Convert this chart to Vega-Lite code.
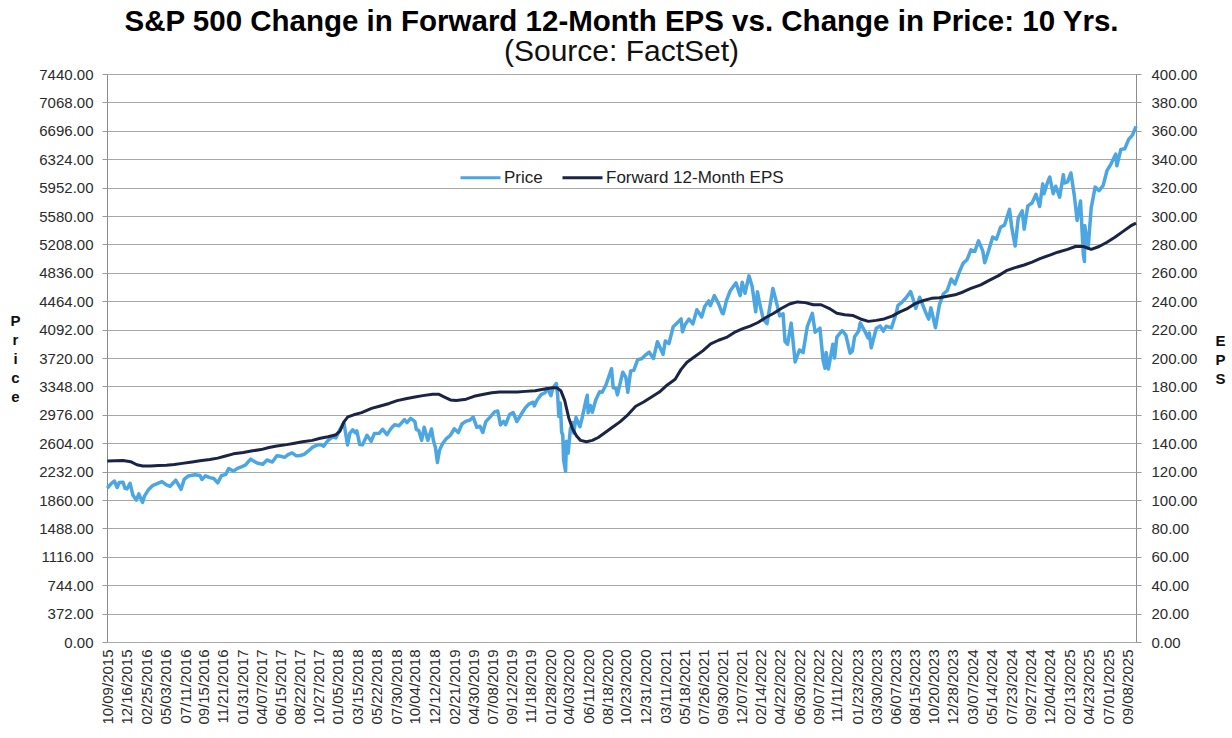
{
  "$schema": "https://vega.github.io/schema/vega-lite/v6.json",
  "width": 1029,
  "height": 568,
  "autosize": {"type": "none"},
  "padding": {"left": 107, "top": 74, "right": 96, "bottom": 96},
  "background": "white",
  "config": {
    "font": "Liberation Sans",
    "view": {"stroke": "#8c8c8c", "strokeWidth": 1},
    "axis": {"labelFont": "Liberation Sans", "labelColor": "#2b2b2b", "titleFont": "Liberation Sans"}
  },
  "title": {
    "text": "S&P 500 Change in Forward 12-Month EPS vs. Change in Price: 10 Yrs.",
    "subtitle": "(Source: FactSet)",
    "anchor": "middle",
    "font": "Liberation Sans",
    "fontSize": 29.5,
    "fontWeight": "bold",
    "color": "#000000",
    "subtitleFont": "Liberation Sans",
    "subtitleFontSize": 30,
    "subtitleColor": "#111111",
    "subtitlePadding": 0,
    "offset": -1
  },
  "datasets": {
    "price": [
      {"date": "2015-10-09", "Price": 2014}, {"date": "2015-10-23", "Price": 2075}, {"date": "2015-11-03", "Price": 2109}, {"date": "2015-11-13", "Price": 2023}, {"date": "2015-11-20", "Price": 2089}, {"date": "2015-12-04", "Price": 2091}, {"date": "2015-12-11", "Price": 2012}, {"date": "2015-12-18", "Price": 2005}, {"date": "2015-12-29", "Price": 2078},
      {"date": "2016-01-08", "Price": 1922}, {"date": "2016-01-20", "Price": 1859}, {"date": "2016-01-29", "Price": 1940}, {"date": "2016-02-11", "Price": 1829}, {"date": "2016-02-19", "Price": 1918}, {"date": "2016-03-04", "Price": 1999}, {"date": "2016-03-18", "Price": 2049}, {"date": "2016-04-01", "Price": 2072}, {"date": "2016-04-20", "Price": 2102}, {"date": "2016-05-06", "Price": 2057}, {"date": "2016-05-19", "Price": 2040}, {"date": "2016-06-08", "Price": 2119}, {"date": "2016-06-16", "Price": 2071}, {"date": "2016-06-27", "Price": 2000}, {"date": "2016-07-08", "Price": 2130}, {"date": "2016-07-22", "Price": 2175}, {"date": "2016-08-15", "Price": 2190}, {"date": "2016-09-02", "Price": 2180}, {"date": "2016-09-09", "Price": 2128}, {"date": "2016-09-22", "Price": 2177}, {"date": "2016-10-07", "Price": 2153}, {"date": "2016-10-21", "Price": 2141}, {"date": "2016-11-04", "Price": 2085}, {"date": "2016-11-18", "Price": 2182}, {"date": "2016-12-02", "Price": 2192}, {"date": "2016-12-13", "Price": 2271}, {"date": "2016-12-30", "Price": 2239},
      {"date": "2017-01-13", "Price": 2275}, {"date": "2017-01-27", "Price": 2295}, {"date": "2017-02-10", "Price": 2316}, {"date": "2017-03-01", "Price": 2396}, {"date": "2017-03-10", "Price": 2373}, {"date": "2017-03-24", "Price": 2344}, {"date": "2017-04-13", "Price": 2329}, {"date": "2017-04-28", "Price": 2384}, {"date": "2017-05-17", "Price": 2357}, {"date": "2017-06-02", "Price": 2439}, {"date": "2017-06-16", "Price": 2433}, {"date": "2017-06-29", "Price": 2419}, {"date": "2017-07-14", "Price": 2459}, {"date": "2017-07-26", "Price": 2477}, {"date": "2017-08-10", "Price": 2438}, {"date": "2017-08-25", "Price": 2443}, {"date": "2017-09-08", "Price": 2461}, {"date": "2017-09-22", "Price": 2502}, {"date": "2017-10-06", "Price": 2549}, {"date": "2017-10-20", "Price": 2575}, {"date": "2017-11-03", "Price": 2587}, {"date": "2017-11-15", "Price": 2565}, {"date": "2017-12-01", "Price": 2642}, {"date": "2017-12-18", "Price": 2690}, {"date": "2017-12-29", "Price": 2674},
      {"date": "2018-01-12", "Price": 2786}, {"date": "2018-01-26", "Price": 2873}, {"date": "2018-02-08", "Price": 2581}, {"date": "2018-02-16", "Price": 2732}, {"date": "2018-02-26", "Price": 2780}, {"date": "2018-03-08", "Price": 2738}, {"date": "2018-03-13", "Price": 2765}, {"date": "2018-03-23", "Price": 2588}, {"date": "2018-04-02", "Price": 2582}, {"date": "2018-04-18", "Price": 2708}, {"date": "2018-05-03", "Price": 2630}, {"date": "2018-05-14", "Price": 2730}, {"date": "2018-06-01", "Price": 2735}, {"date": "2018-06-12", "Price": 2787}, {"date": "2018-06-28", "Price": 2716}, {"date": "2018-07-13", "Price": 2801}, {"date": "2018-07-25", "Price": 2846}, {"date": "2018-08-10", "Price": 2833}, {"date": "2018-08-29", "Price": 2914}, {"date": "2018-09-07", "Price": 2872}, {"date": "2018-09-20", "Price": 2931}, {"date": "2018-10-05", "Price": 2886}, {"date": "2018-10-10", "Price": 2785}, {"date": "2018-10-19", "Price": 2768}, {"date": "2018-10-29", "Price": 2641}, {"date": "2018-11-07", "Price": 2814}, {"date": "2018-11-20", "Price": 2642}, {"date": "2018-12-03", "Price": 2790}, {"date": "2018-12-10", "Price": 2637}, {"date": "2018-12-17", "Price": 2546}, {"date": "2018-12-24", "Price": 2351}, {"date": "2018-12-31", "Price": 2507},
      {"date": "2019-01-11", "Price": 2596}, {"date": "2019-01-25", "Price": 2665}, {"date": "2019-02-08", "Price": 2708}, {"date": "2019-02-22", "Price": 2793}, {"date": "2019-03-08", "Price": 2743}, {"date": "2019-03-21", "Price": 2855}, {"date": "2019-04-05", "Price": 2893}, {"date": "2019-04-18", "Price": 2905}, {"date": "2019-04-30", "Price": 2946}, {"date": "2019-05-13", "Price": 2812}, {"date": "2019-05-24", "Price": 2826}, {"date": "2019-06-03", "Price": 2744}, {"date": "2019-06-14", "Price": 2887}, {"date": "2019-06-28", "Price": 2942}, {"date": "2019-07-15", "Price": 3014}, {"date": "2019-07-26", "Price": 3026}, {"date": "2019-08-05", "Price": 2844}, {"date": "2019-08-16", "Price": 2889}, {"date": "2019-08-23", "Price": 2847}, {"date": "2019-09-06", "Price": 2979}, {"date": "2019-09-19", "Price": 3006}, {"date": "2019-10-02", "Price": 2888}, {"date": "2019-10-18", "Price": 2986}, {"date": "2019-11-01", "Price": 3067}, {"date": "2019-11-15", "Price": 3120}, {"date": "2019-11-29", "Price": 3141}, {"date": "2019-12-03", "Price": 3093}, {"date": "2019-12-13", "Price": 3169}, {"date": "2019-12-27", "Price": 3240},
      {"date": "2020-01-10", "Price": 3265}, {"date": "2020-01-17", "Price": 3330}, {"date": "2020-01-31", "Price": 3226}, {"date": "2020-02-07", "Price": 3328}, {"date": "2020-02-19", "Price": 3386}, {"date": "2020-02-24", "Price": 3226}, {"date": "2020-02-28", "Price": 2954}, {"date": "2020-03-04", "Price": 3130}, {"date": "2020-03-09", "Price": 2747}, {"date": "2020-03-13", "Price": 2711}, {"date": "2020-03-16", "Price": 2386}, {"date": "2020-03-23", "Price": 2237}, {"date": "2020-03-26", "Price": 2630}, {"date": "2020-04-01", "Price": 2471}, {"date": "2020-04-09", "Price": 2790}, {"date": "2020-04-17", "Price": 2875}, {"date": "2020-04-21", "Price": 2737}, {"date": "2020-04-29", "Price": 2940}, {"date": "2020-05-13", "Price": 2820}, {"date": "2020-05-22", "Price": 2955}, {"date": "2020-06-05", "Price": 3194}, {"date": "2020-06-08", "Price": 3232}, {"date": "2020-06-11", "Price": 3002}, {"date": "2020-06-19", "Price": 3098}, {"date": "2020-06-26", "Price": 3009}, {"date": "2020-07-08", "Price": 3170}, {"date": "2020-07-22", "Price": 3277}, {"date": "2020-07-31", "Price": 3271}, {"date": "2020-08-14", "Price": 3373}, {"date": "2020-09-02", "Price": 3580}, {"date": "2020-09-08", "Price": 3332}, {"date": "2020-09-18", "Price": 3319}, {"date": "2020-09-23", "Price": 3237}, {"date": "2020-10-12", "Price": 3534}, {"date": "2020-10-23", "Price": 3465}, {"date": "2020-10-30", "Price": 3270}, {"date": "2020-11-09", "Price": 3551}, {"date": "2020-11-20", "Price": 3558}, {"date": "2020-12-04", "Price": 3699}, {"date": "2020-12-18", "Price": 3709}, {"date": "2020-12-31", "Price": 3756},
      {"date": "2021-01-14", "Price": 3796}, {"date": "2021-01-29", "Price": 3714}, {"date": "2021-02-12", "Price": 3934}, {"date": "2021-03-04", "Price": 3768}, {"date": "2021-03-12", "Price": 3943}, {"date": "2021-03-25", "Price": 3909}, {"date": "2021-04-09", "Price": 4129}, {"date": "2021-04-23", "Price": 4180}, {"date": "2021-05-07", "Price": 4232}, {"date": "2021-05-12", "Price": 4063}, {"date": "2021-05-21", "Price": 4156}, {"date": "2021-06-04", "Price": 4230}, {"date": "2021-06-18", "Price": 4167}, {"date": "2021-07-02", "Price": 4352}, {"date": "2021-07-19", "Price": 4258}, {"date": "2021-07-30", "Price": 4395}, {"date": "2021-08-13", "Price": 4468}, {"date": "2021-08-19", "Price": 4406}, {"date": "2021-09-02", "Price": 4537}, {"date": "2021-09-17", "Price": 4433}, {"date": "2021-09-30", "Price": 4308}, {"date": "2021-10-04", "Price": 4300}, {"date": "2021-10-15", "Price": 4471}, {"date": "2021-10-29", "Price": 4605}, {"date": "2021-11-18", "Price": 4704}, {"date": "2021-11-30", "Price": 4567}, {"date": "2021-12-03", "Price": 4538}, {"date": "2021-12-10", "Price": 4712}, {"date": "2021-12-20", "Price": 4568},
      {"date": "2022-01-03", "Price": 4796}, {"date": "2022-01-14", "Price": 4662}, {"date": "2022-01-27", "Price": 4326}, {"date": "2022-02-02", "Price": 4589}, {"date": "2022-02-11", "Price": 4418}, {"date": "2022-02-23", "Price": 4225}, {"date": "2022-03-08", "Price": 4170}, {"date": "2022-03-29", "Price": 4631}, {"date": "2022-04-08", "Price": 4488}, {"date": "2022-04-22", "Price": 4272}, {"date": "2022-05-04", "Price": 4300}, {"date": "2022-05-11", "Price": 3935}, {"date": "2022-05-20", "Price": 3901}, {"date": "2022-06-02", "Price": 4177}, {"date": "2022-06-16", "Price": 3667}, {"date": "2022-07-01", "Price": 3825}, {"date": "2022-07-14", "Price": 3790}, {"date": "2022-07-29", "Price": 4130}, {"date": "2022-08-16", "Price": 4305}, {"date": "2022-08-26", "Price": 4058}, {"date": "2022-09-12", "Price": 4110}, {"date": "2022-09-23", "Price": 3693}, {"date": "2022-09-30", "Price": 3586}, {"date": "2022-10-04", "Price": 3791}, {"date": "2022-10-12", "Price": 3577}, {"date": "2022-10-28", "Price": 3901}, {"date": "2022-11-03", "Price": 3720}, {"date": "2022-11-11", "Price": 3993}, {"date": "2022-11-30", "Price": 4080}, {"date": "2022-12-13", "Price": 4020}, {"date": "2022-12-28", "Price": 3783},
      {"date": "2023-01-05", "Price": 3808}, {"date": "2023-01-13", "Price": 3999}, {"date": "2023-01-27", "Price": 4070}, {"date": "2023-02-02", "Price": 4180}, {"date": "2023-02-17", "Price": 4079}, {"date": "2023-03-02", "Price": 3982}, {"date": "2023-03-06", "Price": 4048}, {"date": "2023-03-13", "Price": 3855}, {"date": "2023-03-31", "Price": 4109}, {"date": "2023-04-14", "Price": 4138}, {"date": "2023-04-25", "Price": 4071}, {"date": "2023-05-05", "Price": 4136}, {"date": "2023-05-24", "Price": 4115}, {"date": "2023-06-09", "Price": 4299}, {"date": "2023-06-16", "Price": 4410}, {"date": "2023-06-30", "Price": 4450}, {"date": "2023-07-14", "Price": 4505}, {"date": "2023-07-31", "Price": 4589}, {"date": "2023-08-11", "Price": 4464}, {"date": "2023-08-18", "Price": 4370}, {"date": "2023-09-01", "Price": 4516}, {"date": "2023-09-21", "Price": 4330}, {"date": "2023-10-03", "Price": 4229}, {"date": "2023-10-11", "Price": 4377}, {"date": "2023-10-27", "Price": 4117}, {"date": "2023-11-10", "Price": 4415}, {"date": "2023-11-24", "Price": 4559}, {"date": "2023-12-08", "Price": 4604}, {"date": "2023-12-22", "Price": 4755},
      {"date": "2024-01-04", "Price": 4688}, {"date": "2024-01-19", "Price": 4840}, {"date": "2024-02-02", "Price": 4959}, {"date": "2024-02-16", "Price": 5006}, {"date": "2024-03-01", "Price": 5137}, {"date": "2024-03-15", "Price": 5117}, {"date": "2024-03-28", "Price": 5254}, {"date": "2024-04-12", "Price": 5123}, {"date": "2024-04-19", "Price": 4967}, {"date": "2024-05-03", "Price": 5128}, {"date": "2024-05-17", "Price": 5303}, {"date": "2024-05-31", "Price": 5278}, {"date": "2024-06-14", "Price": 5432}, {"date": "2024-06-28", "Price": 5460}, {"date": "2024-07-16", "Price": 5667}, {"date": "2024-07-24", "Price": 5427}, {"date": "2024-08-05", "Price": 5186}, {"date": "2024-08-16", "Price": 5554}, {"date": "2024-08-30", "Price": 5648}, {"date": "2024-09-06", "Price": 5408}, {"date": "2024-09-19", "Price": 5713}, {"date": "2024-10-04", "Price": 5751}, {"date": "2024-10-18", "Price": 5864}, {"date": "2024-10-31", "Price": 5705}, {"date": "2024-11-11", "Price": 6001}, {"date": "2024-11-15", "Price": 5870}, {"date": "2024-11-29", "Price": 6032}, {"date": "2024-12-06", "Price": 6090}, {"date": "2024-12-18", "Price": 5872}, {"date": "2024-12-27", "Price": 5970},
      {"date": "2025-01-10", "Price": 5827}, {"date": "2025-01-23", "Price": 6119}, {"date": "2025-01-27", "Price": 6012}, {"date": "2025-02-07", "Price": 6026}, {"date": "2025-02-19", "Price": 6144}, {"date": "2025-03-03", "Price": 5850}, {"date": "2025-03-13", "Price": 5522}, {"date": "2025-03-25", "Price": 5777}, {"date": "2025-04-04", "Price": 5074}, {"date": "2025-04-08", "Price": 4983}, {"date": "2025-04-09", "Price": 5457}, {"date": "2025-04-21", "Price": 5158}, {"date": "2025-05-02", "Price": 5687}, {"date": "2025-05-16", "Price": 5958}, {"date": "2025-05-30", "Price": 5912}, {"date": "2025-06-13", "Price": 5977}, {"date": "2025-06-27", "Price": 6173}, {"date": "2025-07-11", "Price": 6260}, {"date": "2025-07-28", "Price": 6390}, {"date": "2025-08-01", "Price": 6238}, {"date": "2025-08-15", "Price": 6450}, {"date": "2025-08-29", "Price": 6460}, {"date": "2025-09-12", "Price": 6584}, {"date": "2025-09-26", "Price": 6644}, {"date": "2025-10-08", "Price": 6753}
    ],
    "eps": [
      {"date": "2015-10-09", "EPS": 127.5}, {"date": "2015-11-06", "EPS": 127.6}, {"date": "2015-12-04", "EPS": 127.8}, {"date": "2015-12-31", "EPS": 127.0},
      {"date": "2016-01-22", "EPS": 124.8}, {"date": "2016-02-12", "EPS": 124.0}, {"date": "2016-03-11", "EPS": 124.0}, {"date": "2016-04-08", "EPS": 124.3}, {"date": "2016-05-06", "EPS": 124.5}, {"date": "2016-06-03", "EPS": 125.0}, {"date": "2016-07-01", "EPS": 125.8}, {"date": "2016-08-05", "EPS": 126.8}, {"date": "2016-09-02", "EPS": 127.7}, {"date": "2016-10-07", "EPS": 128.5}, {"date": "2016-11-04", "EPS": 129.5}, {"date": "2016-12-02", "EPS": 131.0}, {"date": "2016-12-30", "EPS": 132.5},
      {"date": "2017-02-03", "EPS": 133.5}, {"date": "2017-03-03", "EPS": 134.5}, {"date": "2017-04-07", "EPS": 135.5}, {"date": "2017-05-05", "EPS": 137.0}, {"date": "2017-06-02", "EPS": 138.0}, {"date": "2017-07-07", "EPS": 139.0}, {"date": "2017-08-04", "EPS": 140.0}, {"date": "2017-09-01", "EPS": 141.0}, {"date": "2017-10-06", "EPS": 142.0}, {"date": "2017-11-03", "EPS": 143.5}, {"date": "2017-12-01", "EPS": 144.5}, {"date": "2017-12-29", "EPS": 146.0},
      {"date": "2018-01-12", "EPS": 148.5}, {"date": "2018-01-26", "EPS": 155.0}, {"date": "2018-02-09", "EPS": 158.5}, {"date": "2018-03-02", "EPS": 160.0}, {"date": "2018-03-30", "EPS": 161.5}, {"date": "2018-05-04", "EPS": 164.5}, {"date": "2018-06-01", "EPS": 166.0}, {"date": "2018-07-06", "EPS": 168.0}, {"date": "2018-08-03", "EPS": 170.0}, {"date": "2018-09-07", "EPS": 171.5}, {"date": "2018-10-05", "EPS": 172.5}, {"date": "2018-11-02", "EPS": 173.5}, {"date": "2018-12-07", "EPS": 174.5}, {"date": "2018-12-28", "EPS": 174.5},
      {"date": "2019-01-18", "EPS": 172.5}, {"date": "2019-02-08", "EPS": 170.5}, {"date": "2019-03-01", "EPS": 170.0}, {"date": "2019-04-05", "EPS": 171.0}, {"date": "2019-05-03", "EPS": 173.0}, {"date": "2019-06-07", "EPS": 174.5}, {"date": "2019-07-05", "EPS": 175.5}, {"date": "2019-08-02", "EPS": 176.0}, {"date": "2019-09-06", "EPS": 176.0}, {"date": "2019-10-04", "EPS": 176.0}, {"date": "2019-11-01", "EPS": 176.5}, {"date": "2019-12-06", "EPS": 177.0},
      {"date": "2020-01-03", "EPS": 178.0}, {"date": "2020-02-07", "EPS": 179.0}, {"date": "2020-02-21", "EPS": 179.0}, {"date": "2020-03-06", "EPS": 177.0}, {"date": "2020-03-20", "EPS": 170.0}, {"date": "2020-04-03", "EPS": 158.0}, {"date": "2020-04-17", "EPS": 150.0}, {"date": "2020-05-01", "EPS": 145.0}, {"date": "2020-05-15", "EPS": 142.0}, {"date": "2020-06-05", "EPS": 141.0}, {"date": "2020-06-26", "EPS": 142.0}, {"date": "2020-07-17", "EPS": 144.0}, {"date": "2020-08-07", "EPS": 147.0}, {"date": "2020-09-04", "EPS": 151.0}, {"date": "2020-10-02", "EPS": 155.0}, {"date": "2020-10-30", "EPS": 160.0}, {"date": "2020-11-27", "EPS": 166.0}, {"date": "2020-12-25", "EPS": 169.0},
      {"date": "2021-01-22", "EPS": 172.5}, {"date": "2021-02-19", "EPS": 176.0}, {"date": "2021-03-19", "EPS": 181.0}, {"date": "2021-04-16", "EPS": 185.0}, {"date": "2021-05-07", "EPS": 192.0}, {"date": "2021-05-28", "EPS": 197.0}, {"date": "2021-06-25", "EPS": 201.0}, {"date": "2021-07-23", "EPS": 205.0}, {"date": "2021-08-20", "EPS": 210.0}, {"date": "2021-09-17", "EPS": 212.5}, {"date": "2021-10-15", "EPS": 214.5}, {"date": "2021-11-12", "EPS": 218.0}, {"date": "2021-12-10", "EPS": 220.5},
      {"date": "2022-01-07", "EPS": 222.5}, {"date": "2022-02-04", "EPS": 225.0}, {"date": "2022-03-04", "EPS": 228.5}, {"date": "2022-04-01", "EPS": 231.5}, {"date": "2022-04-29", "EPS": 235.0}, {"date": "2022-05-27", "EPS": 238.0}, {"date": "2022-06-24", "EPS": 239.5}, {"date": "2022-07-22", "EPS": 239.0}, {"date": "2022-08-19", "EPS": 237.5}, {"date": "2022-09-16", "EPS": 237.5}, {"date": "2022-10-14", "EPS": 235.0}, {"date": "2022-11-11", "EPS": 231.5}, {"date": "2022-12-09", "EPS": 230.5},
      {"date": "2023-01-06", "EPS": 230.0}, {"date": "2023-02-03", "EPS": 227.5}, {"date": "2023-03-03", "EPS": 225.8}, {"date": "2023-03-31", "EPS": 226.5}, {"date": "2023-04-28", "EPS": 227.5}, {"date": "2023-05-26", "EPS": 229.5}, {"date": "2023-06-23", "EPS": 232.5}, {"date": "2023-07-21", "EPS": 235.0}, {"date": "2023-08-18", "EPS": 238.5}, {"date": "2023-09-15", "EPS": 240.5}, {"date": "2023-10-13", "EPS": 242.0}, {"date": "2023-11-10", "EPS": 242.5}, {"date": "2023-12-08", "EPS": 243.5},
      {"date": "2024-01-05", "EPS": 244.5}, {"date": "2024-02-02", "EPS": 246.5}, {"date": "2024-03-01", "EPS": 249.0}, {"date": "2024-04-05", "EPS": 251.5}, {"date": "2024-05-03", "EPS": 254.5}, {"date": "2024-06-07", "EPS": 258.0}, {"date": "2024-07-05", "EPS": 261.5}, {"date": "2024-08-02", "EPS": 263.5}, {"date": "2024-09-06", "EPS": 265.5}, {"date": "2024-10-04", "EPS": 267.5}, {"date": "2024-11-01", "EPS": 270.0}, {"date": "2024-12-06", "EPS": 272.5},
      {"date": "2025-01-03", "EPS": 274.5}, {"date": "2025-02-07", "EPS": 276.5}, {"date": "2025-03-07", "EPS": 278.5}, {"date": "2025-04-04", "EPS": 278.5}, {"date": "2025-05-02", "EPS": 276.5}, {"date": "2025-05-30", "EPS": 278.5}, {"date": "2025-06-27", "EPS": 281.5}, {"date": "2025-07-25", "EPS": 285.0}, {"date": "2025-08-22", "EPS": 289.0}, {"date": "2025-09-19", "EPS": 293.0}, {"date": "2025-10-08", "EPS": 295.0}
    ]
  },
  "encoding": {
    "x": {
      "field": "date",
      "type": "temporal",
      "scale": {"domain": [{"year": 2015, "month": 10, "date": 8}, {"year": 2025, "month": 10, "date": 8}]},
      "axis": {
        "title": null,
        "grid": false,
        "ticks": false,
        "domain": false,
        "labelAngle": -90,
        "labelFontSize": 15,
        "labelPadding": 7,
        "labelOverlap": false,
        "format": "%m/%d/%Y",
        "values": [
          {"year": 2015, "month": 10, "date": 9}, {"year": 2015, "month": 12, "date": 16},
          {"year": 2016, "month": 2, "date": 25}, {"year": 2016, "month": 5, "date": 3}, {"year": 2016, "month": 7, "date": 11}, {"year": 2016, "month": 9, "date": 15}, {"year": 2016, "month": 11, "date": 21},
          {"year": 2017, "month": 1, "date": 31}, {"year": 2017, "month": 4, "date": 7}, {"year": 2017, "month": 6, "date": 15}, {"year": 2017, "month": 8, "date": 22}, {"year": 2017, "month": 10, "date": 27},
          {"year": 2018, "month": 1, "date": 5}, {"year": 2018, "month": 3, "date": 15}, {"year": 2018, "month": 5, "date": 22}, {"year": 2018, "month": 7, "date": 30}, {"year": 2018, "month": 10, "date": 4}, {"year": 2018, "month": 12, "date": 12},
          {"year": 2019, "month": 2, "date": 21}, {"year": 2019, "month": 4, "date": 30}, {"year": 2019, "month": 7, "date": 8}, {"year": 2019, "month": 9, "date": 12}, {"year": 2019, "month": 11, "date": 18},
          {"year": 2020, "month": 1, "date": 28}, {"year": 2020, "month": 4, "date": 3}, {"year": 2020, "month": 6, "date": 11}, {"year": 2020, "month": 8, "date": 18}, {"year": 2020, "month": 10, "date": 23}, {"year": 2020, "month": 12, "date": 31},
          {"year": 2021, "month": 3, "date": 11}, {"year": 2021, "month": 5, "date": 18}, {"year": 2021, "month": 7, "date": 26}, {"year": 2021, "month": 9, "date": 30}, {"year": 2021, "month": 12, "date": 7},
          {"year": 2022, "month": 2, "date": 14}, {"year": 2022, "month": 4, "date": 22}, {"year": 2022, "month": 6, "date": 30}, {"year": 2022, "month": 9, "date": 7}, {"year": 2022, "month": 11, "date": 11},
          {"year": 2023, "month": 1, "date": 23}, {"year": 2023, "month": 3, "date": 30}, {"year": 2023, "month": 6, "date": 7}, {"year": 2023, "month": 8, "date": 15}, {"year": 2023, "month": 10, "date": 20}, {"year": 2023, "month": 12, "date": 28},
          {"year": 2024, "month": 3, "date": 7}, {"year": 2024, "month": 5, "date": 14}, {"year": 2024, "month": 7, "date": 23}, {"year": 2024, "month": 9, "date": 27}, {"year": 2024, "month": 12, "date": 4},
          {"year": 2025, "month": 2, "date": 13}, {"year": 2025, "month": 4, "date": 23}, {"year": 2025, "month": 7, "date": 1}, {"year": 2025, "month": 9, "date": 8}
        ]
      }
    }
  },
  "layer": [
    {
      "data": {"name": "price"},
      "mark": {"type": "line", "strokeWidth": 3.5, "strokeJoin": "round", "interpolate": "linear"},
      "encoding": {
        "y": {
          "field": "Price",
          "type": "quantitative",
          "scale": {"domain": [0, 7440], "nice": false, "zero": true},
          "axis": {
            "orient": "left",
            "title": ["P", "r", "i", "c", "e"],
            "titleAngle": 0,
            "titleFontSize": 15,
            "titleFontWeight": "bold",
            "titleLineHeight": 19,
            "titleAlign": "center",
            "titleBaseline": "middle",
            "titleX": -92,
            "titleY": 246,
            "titleColor": "#111111",
            "values": [0, 372, 744, 1116, 1488, 1860, 2232, 2604, 2976, 3348, 3720, 4092, 4464, 4836, 5208, 5580, 5952, 6324, 6696, 7068, 7440],
            "format": ".2f",
            "labelFontSize": 15,
            "labelPadding": 9,
            "tickSize": 5,
            "tickColor": "#9a9a9a",
            "grid": true,
            "gridColor": "#a8a8a8",
            "gridWidth": 1,
            "domain": false
          }
        },
        "color": {
          "datum": "Price",
          "type": "nominal",
          "scale": {"domain": ["Price", "Forward 12-Month EPS"], "range": ["#4ba6e1", "#1b2444"]},
          "legend": {
            "title": null,
            "orient": "none",
            "direction": "horizontal",
            "legendX": 352,
            "legendY": 82,
            "symbolType": "stroke",
            "symbolSize": 1600,
            "symbolStrokeWidth": 3,
            "labelFontSize": 17,
            "labelLimit": 400,
            "labelFont": "Liberation Sans",
            "labelColor": "#222222",
            "labelOffset": 2,
            "columnPadding": 13
          }
        }
      }
    },
    {
      "data": {"name": "eps"},
      "mark": {"type": "line", "strokeWidth": 3, "strokeJoin": "round"},
      "encoding": {
        "y": {
          "field": "EPS",
          "type": "quantitative",
          "scale": {"domain": [0, 400], "nice": false, "zero": true},
          "axis": {
            "orient": "right",
            "title": ["E", "P", "S"],
            "titleAngle": 0,
            "titleFontSize": 15,
            "titleFontWeight": "bold",
            "titleLineHeight": 19,
            "titleAlign": "center",
            "titleBaseline": "middle",
            "titleX": 84,
            "titleY": 266,
            "titleColor": "#111111",
            "values": [0, 20, 40, 60, 80, 100, 120, 140, 160, 180, 200, 220, 240, 260, 280, 300, 320, 340, 360, 380, 400],
            "format": ".2f",
            "labelFontSize": 15,
            "labelPadding": 10,
            "tickSize": 5,
            "tickColor": "#9a9a9a",
            "grid": false,
            "domain": false
          }
        },
        "color": {"datum": "Forward 12-Month EPS", "type": "nominal"}
      }
    }
  ],
  "resolve": {"scale": {"y": "independent"}}
}
